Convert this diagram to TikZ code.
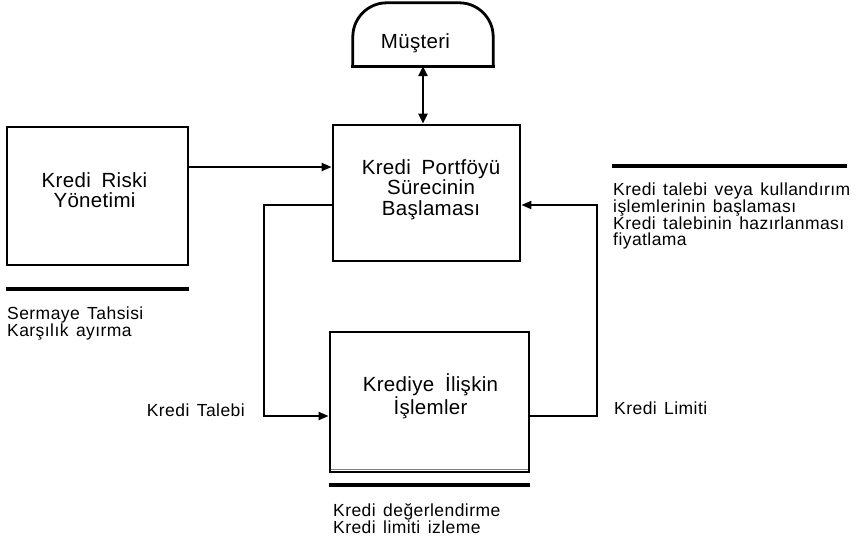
\documentclass[tikz,border=0pt]{standalone}
\usepackage{fontspec}
\setmainfont{Liberation Sans}[WordSpace=1.7]
\newfontfamily\mainfam{Liberation Sans}[WordSpace=1.8, LetterSpace=1.5]
\newfontfamily\subfam{Liberation Sans}[WordSpace=1.4, LetterSpace=2.5]
\usetikzlibrary{arrows.meta}
\begin{document}
\begin{tikzpicture}[x=1pt,y=-1pt,
  box/.style={draw, line width=2.8pt, inner sep=0pt},
  conn/.style={line width=2pt},
  arr/.style={conn, -{Triangle[length=10pt,width=8pt]}},
  maintext/.style={font=\mainfam\fontsize{20.5}{20.5}\selectfont, align=center, inner sep=0pt},
  subtext/.style={font=\subfam\fontsize{17.5}{16}\selectfont, align=left, inner sep=0pt},
  rulebar/.style={line width=4pt},
]
\useasboundingbox (0,0) rectangle (864,542);

% boxes
\node[box, minimum width=181pt, minimum height=138pt] (kr) at (97.5,196) {};
\node[box, minimum width=187pt, minimum height=136pt] (main) at (426.5,193) {};
\node[box, minimum width=199pt, minimum height=140pt] (ops) at (429.5,402) {};
\node[inner sep=0pt, minimum width=140pt, minimum height=63pt] (mus) at (423,34.5) {};
\draw[line width=2.8pt, rounded corners=34pt] (mus.south west) -- (mus.north west) -- (mus.north east) -- (mus.south east);
\draw[line width=2.8pt, line cap=rect] (mus.south west) -- (mus.south east);
\draw[gray, line width=0.8pt] ([shift={(2pt,4pt)}]ops.south west) -- ([shift={(-2pt,4pt)}]ops.south east);

% texts
\node[maintext, anchor=north] (krt) at (94.5,172) {Kredi Riski\\Yönetimi};
\node[maintext, anchor=north] (maint) at (431,159) {Kredi Portföyü\\Sürecinin\\Başlaması};
\node[maintext, anchor=north] (opst) at (430.5,373.3) {Krediye İlişkin\\İşlemler};
\node[maintext, anchor=base] (must) at (415.5,48) {Müşteri};
\node[subtext, anchor=north west] (sermaye) at (7,306.2) {Sermaye Tahsisi\\Karşılık ayırma};
\node[subtext, anchor=north west] (talep) at (613,182.2) {Kredi talebi veya kullandırım\\işlemlerinin başlaması\\Kredi talebinin hazırlanması\\fiyatlama};
\node[subtext, anchor=base east] (talebi) at (245,416) {Kredi Talebi};
\node[subtext, anchor=base west] (limiti) at (614,414) {Kredi Limiti};
\node[subtext, anchor=north west] (deger) at (333,503.2) {Kredi değerlendirme\\Kredi limiti izleme};

% rules
\draw[rulebar] ([yshift=-23pt]kr.south west) -- ([yshift=-23pt]kr.south east);
\draw[rulebar] (612,166) -- (847,166);
\draw[rulebar] ([yshift=-12pt]ops.south west) -- ([yshift=-12pt]ops.south east);

% connectors
\draw[line width=2.5pt, {Triangle[length=10pt,width=9pt]}-{Triangle[length=10pt,width=9pt]}] (mus.south) -- (mus.south |- main.north);
\draw[arr] ([yshift=29pt]kr.east) -- ([yshift=29pt]kr.east -| main.west);
\coordinate (tl) at (264,416);
\draw[arr] ([yshift=-12pt]main.west) -| (tl) -- (tl -| ops.west);
\coordinate (tr) at (597,416);
\draw[arr] (tr -| ops.east) -- (tr) |- ([yshift=-12pt]main.east);
\end{tikzpicture}
\end{document}
